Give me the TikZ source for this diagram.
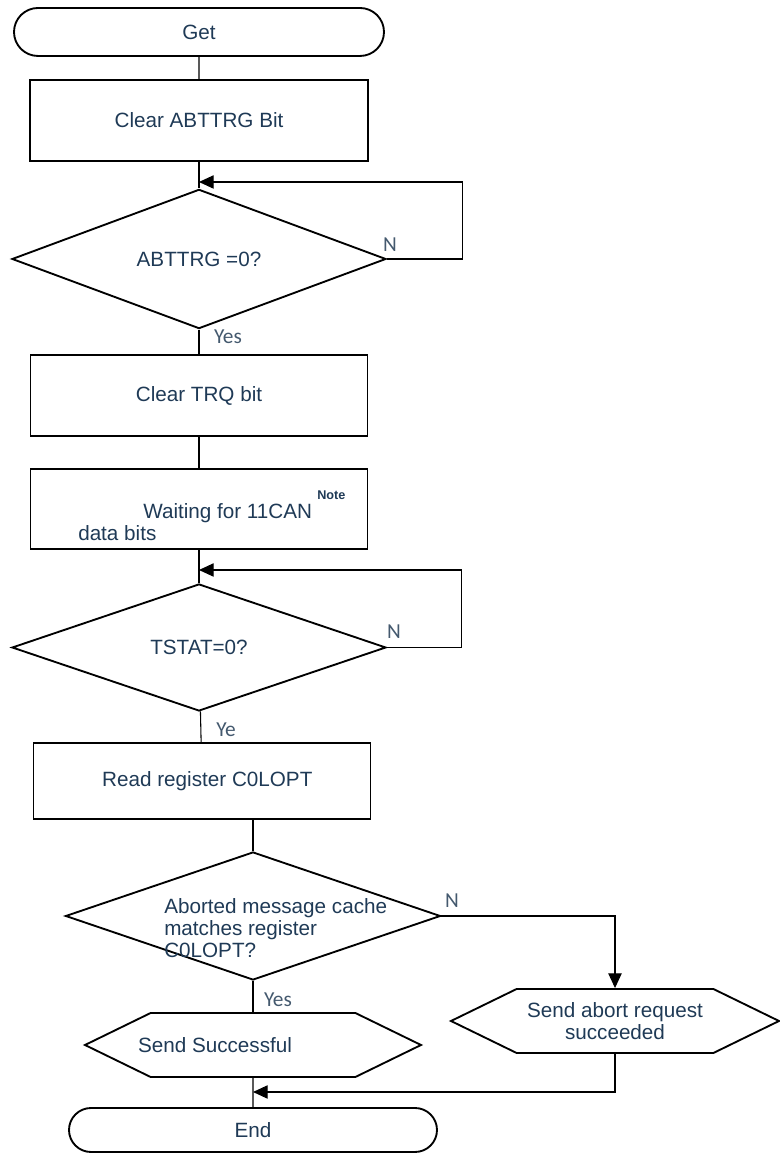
\documentclass[tikz,border=0pt]{standalone}
\usepackage{fontspec}
\setmainfont{Liberation Sans}
\newfontfamily\lblfont{Carlito}
\usepackage{tikz}
\usetikzlibrary{arrows.meta,shapes.geometric,shapes.misc,shapes.symbols}
\definecolor{txtblue}{HTML}{1F3A56}
\definecolor{lblgrey}{HTML}{44596E}

\begin{document}
\begin{tikzpicture}[
      x=0.75pt, y=0.75pt,
      every node/.style={font=\fontsize{15.5}{16.5}\selectfont, text=txtblue},
      term/.style={draw, line width=1.4pt, rounded rectangle, inner sep=0pt},
      proc/.style={draw, line width=1.4pt, rectangle, inner sep=0pt},
      dec/.style={draw, line width=1.4pt, diamond, inner sep=0pt},
      hexa/.style={draw, line width=1.4pt, signal, signal to=west and east, signal pointer angle=52, inner sep=0pt},
      lbl/.style={font=\lblfont\fontsize{16}{17}\selectfont, text=lblgrey},
      link/.style={line width=0.8pt},
      arr/.style={link, -{Triangle[length=11pt,width=10pt]}}
  ]
    \useasboundingbox (0,0) rectangle (779,1156);
    % main column
    \node[term, minimum width=277.5pt, minimum height=36pt] (get) at (199,1124) {Get};
    \node[proc, minimum width=253.5pt, minimum height=60.75pt] (clrabt) at (199,1035.5) {Clear ABTTRG Bit};
    \node[dec, minimum width=280.5pt, minimum height=96pt] (dia1) at (199,897) {ABTTRG =0?};
    \node[proc, minimum width=252.75pt, minimum height=60.75pt] (clrtrq) at (199,760.5) {Clear TRQ bit};
    \node[proc, minimum width=252.75pt, minimum height=60pt] (wait) at (199,647) {};
    \node[anchor=base west, inner sep=0pt] (waittxt) at (143,637) {Waiting for 11CAN};
    \node[anchor=base west, inner sep=0pt, font=\bfseries\fontsize{9.5}{10}\selectfont] (waitnote) at (317,656) {Note};
    \node[anchor=base west, inner sep=0pt] (waitbits) at (78,615) {data bits};
    \node[dec, minimum width=280.5pt, minimum height=95.25pt] (dia2) at (199,508.5) {TSTAT=0?};
    \node[proc, minimum width=252.75pt, minimum height=57pt] (readreg) at (202,375) {\hspace*{8pt}Read register C0LOPT};
    \node[dec, minimum width=281.25pt, minimum height=96pt] (dia3) at (253,240) {};
    \node[anchor=north west, inner sep=0pt, align=left] (dia3txt) at (164,258) {Aborted message cache\\matches register\\C0LOPT?};
    \node[hexa, minimum width=252pt, minimum height=48pt] (sendok) at (253,111) {};
    \node (sendtxt) at (215,111) {Send Successful};
    \node[hexa, minimum width=246pt, minimum height=48pt, align=center] (abortok) at (615,135) {Send abort request\\succeeded};
    \node[term, minimum width=276pt, minimum height=33pt] (endn) at (253,26) {End};

    % merge points
    \coordinate (m1) at (199,974);
    \coordinate (m2) at (199,586);
    \coordinate (m3) at (253,64);

    % connectors
    \draw[link] (get) -- (clrabt);
    \draw[link] (clrabt) -- (dia1);
    \draw[arr] (dia1.east) -- ++(76,0) |- (m1);
    \draw[link] (dia1) -- (clrtrq);
    \draw[link] (clrtrq) -- (wait);
    \draw[link] (wait) -- (dia2);
    \draw[arr] (dia2.east) -- ++(75,0) |- (m2);
    \draw[link] (dia2) -- (readreg);
    \draw[link] (readreg.south -| dia3.north) -- (dia3.north);
    \draw[arr] (dia3.east) -| (abortok.north);
    \draw[link] (dia3) -- (sendok);
    \draw[link] (sendok) -- (endn);
    \draw[arr] (abortok.south) |- (m3);

    % branch labels
    \node[lbl] (n1) at (390,911) {N};
    \node[lbl] (y1) at (228,819) {Yes};
    \node[lbl] (n2) at (394,524) {N};
    \node[lbl] (y2) at (226,426) {Ye};
    \node[lbl] (n3) at (452,255) {N};
    \node[lbl] (y3) at (278,156) {Yes};
\end{tikzpicture}
\end{document}
